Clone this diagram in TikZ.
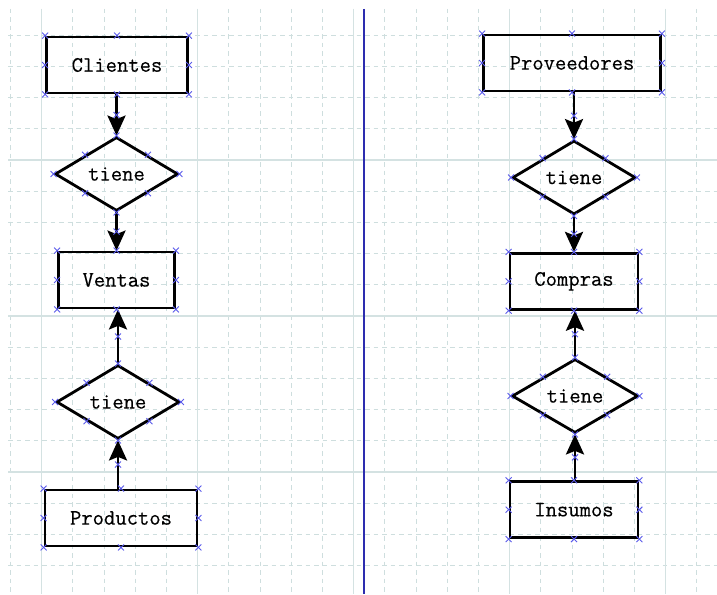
\documentclass[tikz,border=0pt]{standalone}
\usepackage{fontspec}
\setmonofont[FakeBold=0.4]{Latin Modern Mono}
\usetikzlibrary{shapes.geometric,arrows.meta,calc}
\definecolor{gridmaj}{RGB}{212,226,226}
\definecolor{gridmin}{RGB}{206,222,222}
\definecolor{divblue}{RGB}{45,45,175}
\definecolor{markblue}{RGB}{90,90,235}
\newcommand{\xmark}[1]{\draw[mk] #1 +(-3,-3) -- +(3,3) +(-3,3) -- +(3,-3);}
\begin{document}
\begin{tikzpicture}[x=1pt,y=-1pt,
  lbl/.style={font=\ttfamily\fontsize{22}{23}\selectfont, text=black},
  entity/.style={lbl, draw, line width=2.8pt, rectangle, inner sep=0pt, minimum height=56pt},
  rel/.style={lbl, draw, line width=2.8pt, diamond, inner sep=0pt, minimum width=123pt, minimum height=74pt},
  arr/.style={line width=2.8pt, -{Stealth[length=20pt,width=18pt,inset=3.5pt]}},
  gmin/.style={gridmin, line width=1pt, dash pattern=on 4.5pt off 4pt},
  gmaj/.style={gridmaj, line width=1.2pt},
  mk/.style={markblue, line width=0.9pt}
]
\useasboundingbox[fill=white] (0,0) rectangle (717,594);
% grid
\foreach \k in {0,...,22} {
  \draw[gmin] ({10.5+31.2*\k},9) -- ({10.5+31.2*\k},594);
}
\foreach \k in {0,...,17} {
  \draw[gmin] (8,{35.2+31.2*\k}) -- (717,{35.2+31.2*\k});
}
\foreach \k in {1,6,11,16,21} {
  \draw[gmaj] ({10.5+31.2*\k},9) -- ({10.5+31.2*\k},594);
}
\foreach \k in {4,9,14} {
  \draw[gmaj] (8,{35.2+31.2*\k}) -- (717,{35.2+31.2*\k});
}
% divider
\draw[divblue, line width=1.6pt] (364,9) -- (364,594);

% left column
\node[entity, minimum width=141pt] (cli) at (117,65) {Clientes};
\node[rel] (d1) at (116.5,174) {tiene};
\node[entity, minimum width=116pt] (ven) at (116.5,280) {Ventas};
\node[rel] (d2) at (118,402) {tiene};
\node[entity, minimum width=152pt] (pro) at (121,518) {Productos};

% right column
\node[entity, minimum width=177pt] (prv) at (572,63) {Proveedores};
\node[rel] (d3) at (574,177.5) {tiene};
\node[entity, minimum width=128pt] (com) at (574,281.3) {Compras};
\node[rel, minimum width=126pt] (d4) at (575,396) {tiene};
\node[entity, minimum width=128pt] (ins) at (574,509.7) {Insumos};

% connectors
\draw[arr] (d1.north |- cli.south) coordinate (c1a) -- (d1.north) coordinate (c1b);
\draw[arr] (d1.south) coordinate (c2a) -- (d1.south |- ven.north) coordinate (c2b);
\draw[arr] (d2.north) coordinate (c3a) -- (d2.north |- ven.south) coordinate (c3b);
\draw[arr] (d2.south |- pro.north) coordinate (c4a) -- (d2.south) coordinate (c4b);
\draw[arr] (d3.north |- prv.south) coordinate (c5a) -- (d3.north) coordinate (c5b);
\draw[arr] (d3.south) coordinate (c6a) -- (d3.south |- com.north) coordinate (c6b);
\draw[arr] (d4.north) coordinate (c7a) -- (d4.north |- com.south) coordinate (c7b);
\draw[arr] (d4.south |- ins.north) coordinate (c8a) -- (d4.south) coordinate (c8b);

% markers
\foreach \n in {cli,ven,pro,prv,com,ins} {
  \foreach \a in {north west,north,north east,east,south east,south,south west,west} {
    \xmark{(\n.\a)}
  }
}
\foreach \n in {d1,d2,d3,d4} {
  \foreach \a in {north,east,south,west} {
    \xmark{(\n.\a)}
  }
  \xmark{($(\n.north)!0.5!(\n.east)$)}
  \xmark{($(\n.east)!0.5!(\n.south)$)}
  \xmark{($(\n.south)!0.5!(\n.west)$)}
  \xmark{($(\n.west)!0.5!(\n.north)$)}
}
\foreach \i in {1,...,8} {
  \xmark{($(c\i a)!0.5!(c\i b)$)}
}
\end{tikzpicture}
\end{document}
